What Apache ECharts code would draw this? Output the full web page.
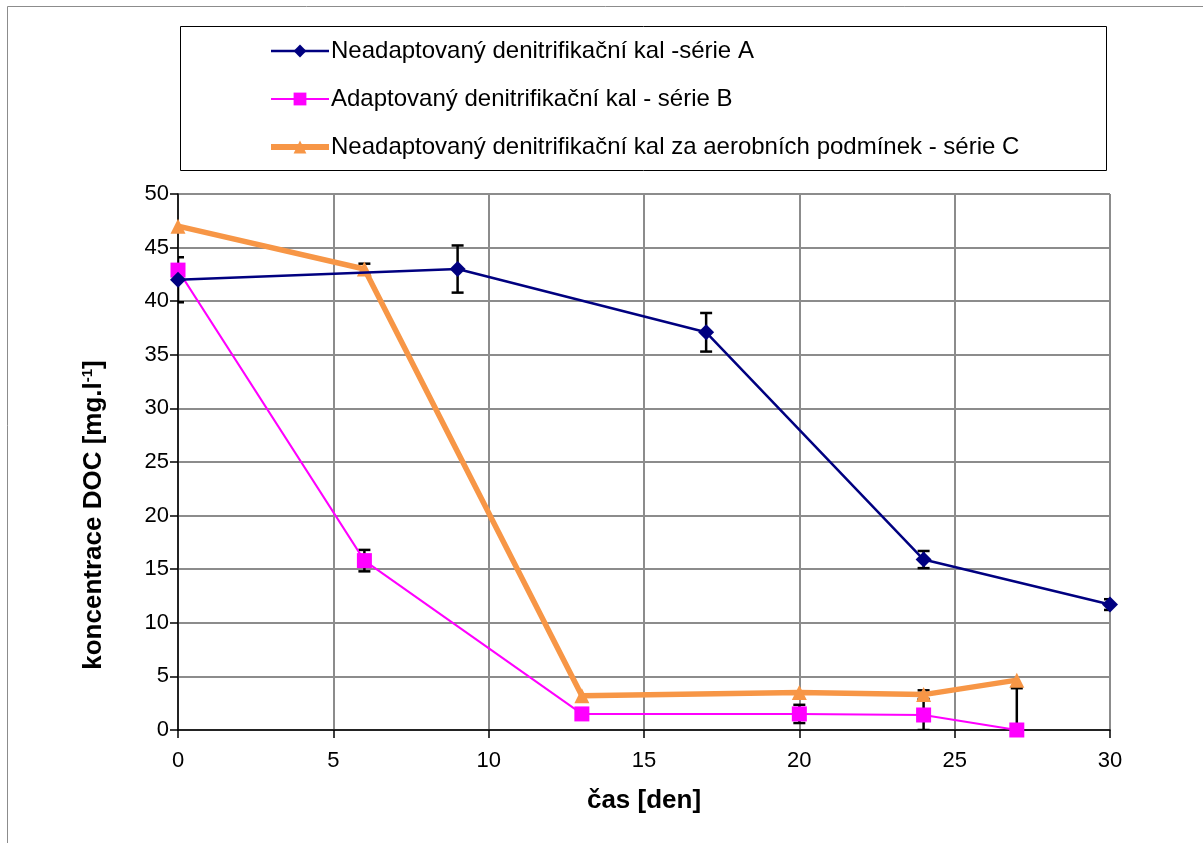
<!DOCTYPE html>
<html>
<head>
<meta charset="utf-8">
<script src="https://cdn.jsdelivr.net/npm/echarts@6/dist/echarts.min.js"></script>
<style>
  html, body { margin: 0; padding: 0; background: #fff; }
  #chart { width: 1203px; height: 843px; }
</style>
</head>
<body>
<div id="chart"></div>
<script>
// DOC concentration over time for three sludge series, with error bars
const seriesNames = [
  'Neadaptovaný denitrifikační kal -série A',
  'Adaptovaný denitrifikační kal - série B',
  'Neadaptovaný denitrifikační kal za aerobních podmínek - série C'
];

// [day, DOC mg/l]
const dataA = [[0, 42.0], [9, 43.0], [17, 37.1], [24, 15.9], [30, 11.7]];
const dataB = [[0, 42.9], [6, 15.8], [13, 1.5], [20, 1.5], [24, 1.4], [27, 0.0]];
const dataC = [[0, 47.0], [6, 43.0], [13, 3.2], [20, 3.5], [24, 3.3], [27, 4.65]];

// symmetric error (± mg/l) per point, same order as data above
const errA = [2.1, 2.2, 1.8, 0.8, 0.5];
const errB = [0, 1.0, 0, 0.85, 1.4, 3.9];
const errC = [0, 0.5, 0, 0, 0.4, 0];

const xTicks = [0, 5, 10, 15, 20, 25, 30];
const yTicks = [0, 5, 10, 15, 20, 25, 30, 35, 40, 45, 50];

const xTitle = 'čas [den]';
const yTitle = 'koncentrace DOC [mg.l{sup|-1}]';

const colA = '#000080', colB = '#FF00FF', colC = '#F79646';
const font = '"Liberation Sans", Arial, sans-serif';

function errRows(data, err) {
  return data.map((d, i) => [d[0], d[1], err[i]]).filter(r => r[2] > 0);
}

function errorBarSeries(rows) {
  return {
    type: 'custom',
    silent: true,
    clip: true,
    z: 1,
    data: rows,
    renderItem: function (params, api) {
      const x = api.value(0), y = api.value(1), e = api.value(2);
      const top = api.coord([x, y + e]);
      const bot = api.coord([x, y - e]);
      const cap = 6;
      const style = { stroke: '#000', lineWidth: 2.5 };
      return {
        type: 'group',
        children: [
          { type: 'line', shape: { x1: top[0], y1: top[1], x2: bot[0], y2: bot[1] }, style: style },
          { type: 'line', shape: { x1: top[0] - cap, y1: top[1], x2: top[0] + cap, y2: top[1] }, style: style },
          { type: 'line', shape: { x1: bot[0] - cap, y1: bot[1], x2: bot[0] + cap, y2: bot[1] }, style: style }
        ]
      };
    }
  };
}

const chart = echarts.init(document.getElementById('chart'), null, { renderer: 'canvas' });

chart.setOption({
  backgroundColor: '#fff',
  animation: false,
  textStyle: { fontFamily: font },
  graphic: [
    // outer chart frame
    { type: 'rect', shape: { x: 7.5, y: 6.5, width: 1300, height: 900 },
      style: { fill: 'none', stroke: '#8c8c8c', lineWidth: 1 }, z: -10 },
    // legend frame
    { type: 'rect', shape: { x: 180.5, y: 26.5, width: 926, height: 144 },
      style: { fill: '#fff', stroke: '#000', lineWidth: 1 }, z: -5 },
    // vertical axis title
    { type: 'text', x: 94, y: 515, rotation: Math.PI / 2, z: 10,
      style: {
        text: yTitle, align: 'center', verticalAlign: 'middle',
        fontFamily: font, fontWeight: 'bold', fontSize: 26, fill: '#000',
        rich: {
          sup: { fontFamily: font, fontWeight: 'bold', fontSize: 15, fill: '#000',
            verticalAlign: 'top', padding: [0, 0, 12, 0] }
        }
      } }
  ],
  legend: {
    orient: 'vertical',
    left: 263,
    top: 34,
    itemWidth: 58,
    itemHeight: 16,
    itemGap: 24,
    textStyle: { fontFamily: font, fontSize: 24, color: '#000', padding: [0, 0, 0, -3] },
    data: [
      { name: seriesNames[0], lineStyle: { width: 2.5 } },
      { name: seriesNames[1], lineStyle: { width: 2 } },
      { name: seriesNames[2], lineStyle: { width: 6 } }
    ]
  },
  grid: { left: 178, right: 93, top: 194, bottom: 113, show: false },
  xAxis: {
    type: 'value',
    min: 0, max: 30, interval: 5,
    name: xTitle,
    nameLocation: 'middle',
    nameGap: 58,
    nameTextStyle: { fontFamily: font, fontWeight: 'bold', fontSize: 26, color: '#000' },
    axisLine: { show: true, lineStyle: { color: '#000', width: 1.5 } },
    axisTick: { show: true, length: 8, inside: false, lineStyle: { color: '#000', width: 1.5 } },
    axisLabel: { fontSize: 22, color: '#000', margin: 20,
      formatter: v => xTicks.includes(v) ? String(v) : '' },
    splitLine: { show: true, lineStyle: { color: '#8c8c8c', width: 2 } }
  },
  yAxis: {
    type: 'value',
    min: 0, max: 50, interval: 5,
    axisLine: { show: true, lineStyle: { color: '#000', width: 1.5 } },
    axisTick: { show: true, length: 8, inside: false, lineStyle: { color: '#000', width: 1.5 } },
    axisLabel: { fontSize: 22, color: '#000', margin: 9,
      formatter: v => yTicks.includes(v) ? String(v) : '' },
    splitLine: { show: true, lineStyle: { color: '#8c8c8c', width: 2 } }
  },
  series: [
    errorBarSeries(errRows(dataA, errA)),
    errorBarSeries(errRows(dataB, errB)),
    errorBarSeries(errRows(dataC, errC)),
    {
      name: seriesNames[0], type: 'line', data: dataA, z: 4,
      symbol: 'diamond', symbolSize: 16,
      lineStyle: { color: colA, width: 2.5 },
      itemStyle: { color: colA },
      clip: false
    },
    {
      name: seriesNames[1], type: 'line', data: dataB, z: 3,
      symbol: 'rect', symbolSize: 15,
      lineStyle: { color: colB, width: 2 },
      itemStyle: { color: colB },
      clip: false
    },
    {
      name: seriesNames[2], type: 'line', data: dataC, z: 2,
      symbol: 'triangle', symbolSize: 15,
      lineStyle: { color: colC, width: 5.5 },
      itemStyle: { color: colC },
      clip: false
    }
  ]
});
</script>
</body>
</html>
